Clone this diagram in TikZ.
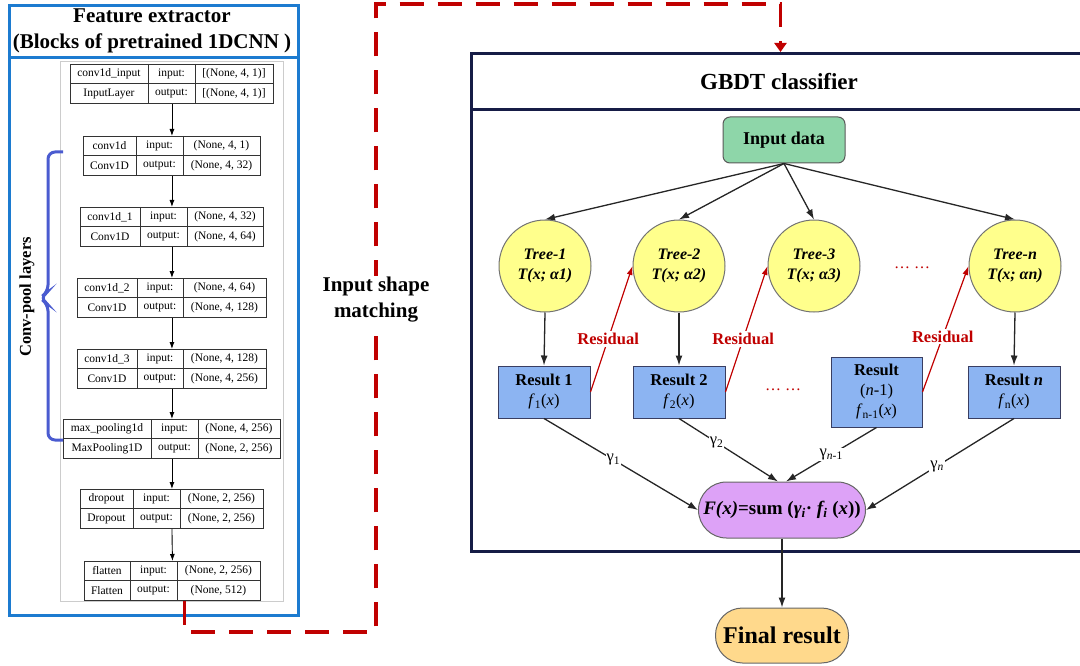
\documentclass[tikz,border=0pt]{standalone}
\usepackage{fontspec}
\setmainfont{Liberation Serif}
\usetikzlibrary{arrows.meta,positioning}
\definecolor{feblue}{HTML}{1C7BD0}
\definecolor{navy}{HTML}{161C46}
\definecolor{matchred}{HTML}{C00000}
\definecolor{bracecol}{HTML}{4A5BD0}
\definecolor{datagreen}{HTML}{8ED6A9}
\definecolor{treeyellow}{HTML}{FFFF8C}
\definecolor{resblue}{HTML}{8CB4F2}
\definecolor{sumpurple}{HTML}{DDA2F7}
\definecolor{finalorange}{HTML}{FFD98C}

\begin{document}
\begin{tikzpicture}[x=1pt,y=-1pt,>=Latex,
  every node/.style={font=\fontsize{11.5}{13}\selectfont},
  kbox/.style={draw=black!80,line width=0.9pt,inner sep=0pt,minimum height=39pt,anchor=north west},
  kline/.style={draw=black!80,line width=0.9pt},
  karrow/.style={-{Latex[length=7pt,width=5pt]},line width=0.9pt},
  flow/.style={-{Latex[length=10pt,width=7pt]},line width=1.3pt,draw=black!85},
  resid/.style={-{Latex[length=9pt,width=6pt]},line width=1.2pt,draw=matchred},
  residlabel/.style={fill=white,inner sep=2pt,text=matchred,font=\bfseries\fontsize{16.5}{18}\selectfont},
  gammalabel/.style={fill=white,inner sep=1pt,font=\fontsize{16.5}{18}\selectfont},
  matchline/.style={draw=matchred,line width=3.5pt,dash pattern=on 24pt off 14pt,-{Triangle[length=9pt,width=12pt]}},
  tree/.style={circle,draw=black!55,line width=1pt,fill=treeyellow,minimum size=92pt,inner sep=0pt,align=center,
    font=\bfseries\itshape\fontsize{16}{20}\selectfont},
  result/.style={draw=navy!85,line width=1pt,fill=resblue,minimum width=92pt,minimum height=52pt,inner sep=0pt,align=center,
    font=\fontsize{16.5}{20}\selectfont},
  dots/.style={text=matchred,font=\fontsize{16}{18}\selectfont}
]
\useasboundingbox (0,0) rectangle (1080,666);

% feature extractor panel
\node[draw=feblue,line width=3pt,minimum width=289pt,minimum height=610pt,anchor=north west,inner sep=0pt] (fe) at (8,4) {};
\draw[feblue,line width=3pt] (fe.west |- 0,58) -- (fe.east |- 0,58);
\node[align=center,font=\bfseries\fontsize{21}{26}\selectfont] (fetitle) at (152,31) {Feature extractor\\(Blocks of pretrained 1DCNN )};
\node[draw=black!20,line width=0.8pt,minimum width=223pt,minimum height=540pt,anchor=north west,inner sep=0pt] (kgraph) at (60,61) {};

\foreach \nm/\xl/\xa/\xb/\xr/\yt/\lyr/\cls/\ishp/\oshp in {
  L1/70/148/195/273/64/{conv1d\_input}/{InputLayer}/{[(None, 4, 1)]}/{[(None, 4, 1)]},
  L2/83/136/183/260/136/{conv1d}/{Conv1D}/{(None, 4, 1)}/{(None, 4, 32)},
  L3/80/140/187/263/207/{conv1d\_1}/{Conv1D}/{(None, 4, 32)}/{(None, 4, 64)},
  L4/77/137/183/266/278/{conv1d\_2}/{Conv1D}/{(None, 4, 64)}/{(None, 4, 128)},
  L5/77/137/183/266/349/{conv1d\_3}/{Conv1D}/{(None, 4, 128)}/{(None, 4, 256)},
  L6/63/151/198/280/419/{max\_pooling1d}/{MaxPooling1D}/{(None, 4, 256)}/{(None, 2, 256)},
  L7/80/133/180/263/489/{dropout}/{Dropout}/{(None, 2, 256)}/{(None, 2, 256)},
  L8/84/130/177/260/561/{flatten}/{Flatten}/{(None, 2, 256)}/{(None, 512)}}{
  \pgfmathsetmacro\w{\xr-\xl}
  \node[kbox,minimum width=\w pt] (\nm) at (\xl,\yt) {};
  \draw[kline] (\xa,\yt) -- (\xa,\yt+39) (\xb,\yt) -- (\xb,\yt+39) (\xl,\yt+19.5) -- (\xr,\yt+19.5);
  \node at ({(\xl+\xa)/2},\yt+10) {\lyr};
  \node at ({(\xl+\xa)/2},\yt+29.5) {\cls};
  \node at ({(\xa+\xb)/2},\yt+10) {input:};
  \node at ({(\xa+\xb)/2},\yt+29.5) {output:};
  \node at ({(\xb+\xr)/2},\yt+10) {\ishp};
  \node at ({(\xb+\xr)/2},\yt+29.5) {\oshp};
}
\foreach \a/\b in {L1/L2,L2/L3,L3/L4,L4/L5,L5/L6,L6/L7,L7/L8}
  \draw[karrow] (\a.south) -- (\b.north);

% conv-pool brace
\draw[bracecol,line width=3pt,rounded corners=7pt] (63,152) -| (48,292) -- (40,298) -- (48,304) |- (63,440);
\node[rotate=90,font=\bfseries\fontsize{16.5}{20}\selectfont] (convlab) at (27,297) {Conv-pool layers};

% GBDT panel
\node[draw=navy,line width=3pt,minimum width=618pt,minimum height=498pt,anchor=north west,inner sep=0pt] (gbdt) at (470,52) {};
\draw[navy,line width=3pt] (gbdt.west |- 0,110) -- (gbdt.east |- 0,110);
\node[font=\bfseries\fontsize{23}{26}\selectfont] (gtitle) at (779,82) {GBDT classifier};

% input shape matching
\coordinate (bend) at (376,4);
\draw[matchline] ([xshift=12pt]L8.south) -- ++(0,31) -| (bend) -| (gbdt.north);
\node[fill=white,inner sep=1pt,align=center,font=\bfseries\fontsize{21}{26}\selectfont] (matchtxt) at (376,300) {Input shape\\matching};

\node[draw=black!65,line width=1pt,fill=datagreen,rounded corners=7pt,minimum width=122pt,minimum height=46pt,
  font=\bfseries\fontsize{18}{20}\selectfont] (indata) at (784,140) {Input data};

\node[tree] (t1) at (545,266) {Tree-1\\T(x; α1)};
\node[tree] (t2) at (679,266) {Tree-2\\T(x; α2)};
\node[tree] (t3) at (814,266) {Tree-3\\T(x; α3)};
\node[tree] (tn) at (1015,266) {Tree-n\\T(x; αn)};
\node[dots] (tdots) at (912,268) {… …};

\node[result] (r1) at (544,392) {\textbf{Result 1}\\\textit{f}\textsubscript{1}(\textit{x})};
\node[result] (r2) at (679,392) {\textbf{Result 2}\\\textit{f}\textsubscript{2}(\textit{x})};
\node[result,minimum width=91pt,minimum height=70pt] (rn1) at (876.5,392) {\textbf{Result}\\(\textit{n}-1)\\\textit{f}\textsubscript{n-1}(\textit{x})};
\node[result] (rn) at (1014,392) {\textbf{Result \textit{n}}\\\textit{f}\textsubscript{n}(\textit{x})};
\node[dots] (rdots) at (783,390) {… …};

\node[draw=black!60,line width=1pt,fill=sumpurple,rounded corners=28pt,minimum width=167pt,minimum height=56pt,
  font=\bfseries\fontsize{19}{21}\selectfont] (fsum) at (782,510)
  {\textit{F(x)}=sum (\textit{γ\textsubscript{i}}· \textit{f\textsubscript{i}} (\textit{x}))};
\node[draw=black!60,line width=1pt,fill=finalorange,rounded corners=27pt,minimum width=133pt,minimum height=55pt,
  font=\bfseries\fontsize{24}{26}\selectfont] (final) at (782,635.5) {Final result};

\foreach \t in {t1,t2,t3,tn}
  \draw[flow] (indata.south) -- (\t.north);
\foreach \t/\r in {t1/r1,t2/r2,tn/rn}
  \draw[flow] (\t.south) -- (\r.north);

\draw[resid] (r1.east) -- (t2.west) node[residlabel,pos=0.42] {Residual};
\draw[resid] (r2.east) -- (t3.west) node[residlabel,pos=0.42] {Residual};
\draw[resid] (rn1.east) -- (tn.west) node[residlabel,pos=0.44] {Residual};

\draw[flow] (r1.south) -- (fsum.west) node[gammalabel,pos=0.45] {γ\textsubscript{1}};
\draw[flow] (r2.south) -- ([xshift=-4pt]fsum.north) node[gammalabel,pos=0.38] {γ\textsubscript{2}};
\draw[flow] (rn1.south) -- ([xshift=4pt]fsum.north) node[gammalabel,pos=0.5] {γ\textsubscript{\textit{n}-1}};
\draw[flow] (rn.south) -- (fsum.east) node[gammalabel,pos=0.52] {γ\textsubscript{\textit{n}}};

\draw[flow] (fsum.south) -- (final.north);
\end{tikzpicture}
\end{document}
